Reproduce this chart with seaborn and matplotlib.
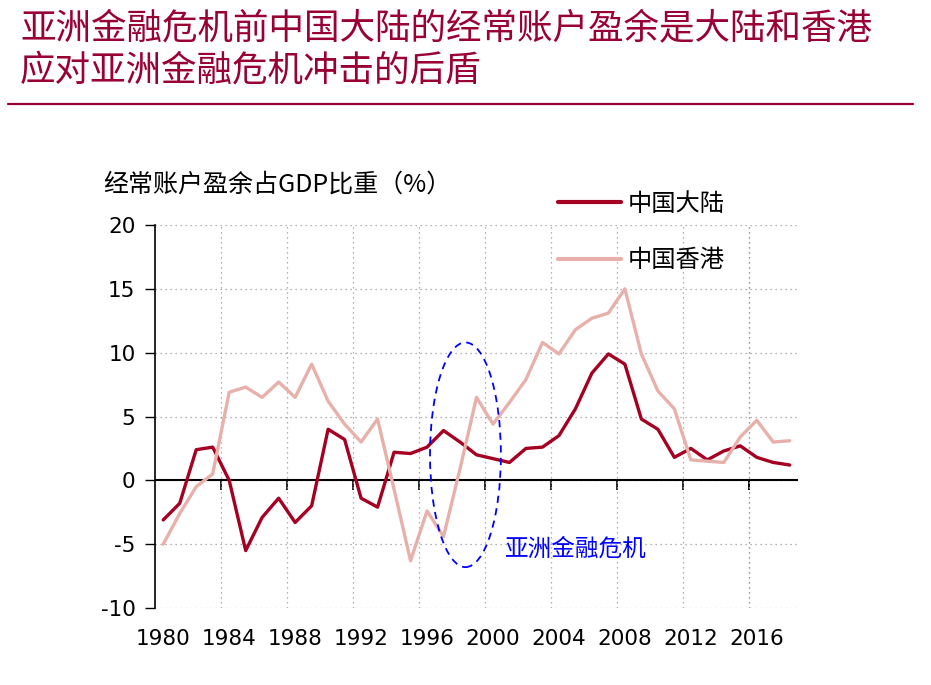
import pandas as pd
import numpy as np
import matplotlib
matplotlib.use('Agg')
import matplotlib.pyplot as plt
import seaborn as sns
from matplotlib.patches import Ellipse
from matplotlib.lines import Line2D

# data: current account surplus, % of GDP
years = list(range(1980, 2019))
mainland = [-3.1, -1.8, 2.4, 2.6, 0.0, -5.5, -2.9, -1.4, -3.3, -2.0,
            4.0, 3.2, -1.4, -2.1, 2.2, 2.1, 2.6, 3.9, 3.0, 2.0,
            1.7, 1.4, 2.5, 2.6, 3.5, 5.6, 8.4, 9.9, 9.1, 4.8,
            4.0, 1.8, 2.5, 1.6, 2.3, 2.7, 1.8, 1.4, 1.2]
hongkong = [-5.0, -2.6, -0.5, 0.5, 6.9, 7.3, 6.5, 7.7, 6.5, 9.1,
            6.2, 4.4, 3.0, 4.8, -0.7, -6.3, -2.4, -4.4, 0.9, 6.5,
            4.4, 6.1, 7.9, 10.8, 9.9, 11.8, 12.7, 13.1, 15.0, 9.9,
            7.0, 5.6, 1.6, 1.5, 1.4, 3.4, 4.7, 3.0, 3.1]
series_names = ['中国大陆', '中国香港']
label_years = list(range(1980, 2017, 4))
tick_bounds = [y + 3.5 for y in label_years[:-1]] + [2015.5]
y_ticks = [-10, -5, 0, 5, 10, 15, 20]

title_1 = '亚洲金融危机前中国大陆的经常账户盈余是大陆和香港'
title_2 = '应对亚洲金融危机冲击的后盾'
y_label = '经常账户盈余占GDP比重（%）'
crisis_label = '亚洲金融危机'

df = pd.DataFrame({
    'year': years * 2,
    'value': mainland + hongkong,
    'region': [series_names[0]] * len(years) + [series_names[1]] * len(years),
})

sns.set_style('white')
plt.rcParams['font.family'] = ['Noto Sans CJK SC', 'DejaVu Sans']
plt.rcParams['text.color'] = 'black'

title_color = '#990033'
colors = {series_names[0]: '#A50021', series_names[1]: '#E8B0AA'}

fig = plt.figure(figsize=(9.31, 6.85), dpi=100)
ax = fig.add_axes([155 / 931, 1 - 608 / 685, (798 - 155) / 931, (608 - 225) / 685])

sns.lineplot(data=df, x='year', y='value', hue='region', palette=colors,
             linewidth=2.4, ax=ax, legend=False)

ax.set_xlim(1979.5, 2018.5)
ax.set_ylim(-10, 20)
ax.set_xlabel('')
ax.set_ylabel('')

# y axis
ax.set_yticks(y_ticks)
ax.set_yticklabels([str(v) for v in y_ticks], family='DejaVu Sans')
ax.tick_params(axis='y', direction='out', length=7, width=1, labelsize=15.5,
               pad=7, colors='black', labelcolor='black', left=True)

# x labels sit at the bottom, ticks sit on the zero line
ax.set_xticks(label_years)
ax.set_xticklabels([str(y) for y in label_years], family='DejaVu Sans')
ax.tick_params(axis='x', which='major', length=0, labelsize=15.5, pad=15,
               labelcolor='black')
ax.set_xticks(tick_bounds, minor=True)
ax.tick_params(axis='x', which='minor', length=0)

ax.grid(False)
ax.grid(axis='x', which='minor', linestyle=(0, (1, 3)), color='#999999', linewidth=0.9)
ax.grid(axis='y', which='major', linestyle=(0, (1, 3)), color='#999999', linewidth=0.9)

for side in ['top', 'right', 'bottom']:
    ax.spines[side].set_visible(False)
ax.spines['left'].set_color('black')
ax.spines['left'].set_linewidth(1.2)

ax.axhline(0, color='black', linewidth=1.5, zorder=1.5)
sec = ax.secondary_xaxis(1 / 3)
sec.set_xticks(tick_bounds)
sec.set_xticklabels([])
sec.tick_params(direction='out', length=7, width=1.2, colors='black')
sec.spines['bottom'].set_visible(False)
sec.spines['top'].set_visible(False)

# crisis marker
ax.add_patch(Ellipse((1998.33, 2.0), 4.3, 17.6, fill=False, edgecolor='blue',
                     linestyle=(0, (4, 3)), linewidth=1.3, zorder=3))
ax.text(2000.75, -5.4, crisis_label, color='blue', fontsize=17, va='center', ha='left')

# legend
handles = [Line2D([], [], color=colors[n], linewidth=3) for n in series_names]
fig.legend(handles, series_names, loc='upper left', bbox_to_anchor=(558 / 931, 1 - 191 / 685),
           frameon=False, fontsize=17.5, handlelength=2.6, handletextpad=0.25,
           labelspacing=1.25, borderpad=0, borderaxespad=0)

# texts
fig.text(103 / 931, 1 - 185 / 685, y_label, fontsize=18, va='center', ha='left')
fig.text(20 / 931, 1 - 28 / 685, title_1, fontsize=25.6, color=title_color, va='center', ha='left')
fig.text(20 / 931, 1 - 71 / 685, title_2, fontsize=25.6, color=title_color, va='center', ha='left')
fig.add_artist(Line2D([8 / 931, 913 / 931], [1 - 104 / 685, 1 - 104 / 685],
                      transform=fig.transFigure, color=title_color, linewidth=1.6))

fig.savefig('out.png', dpi=100)
